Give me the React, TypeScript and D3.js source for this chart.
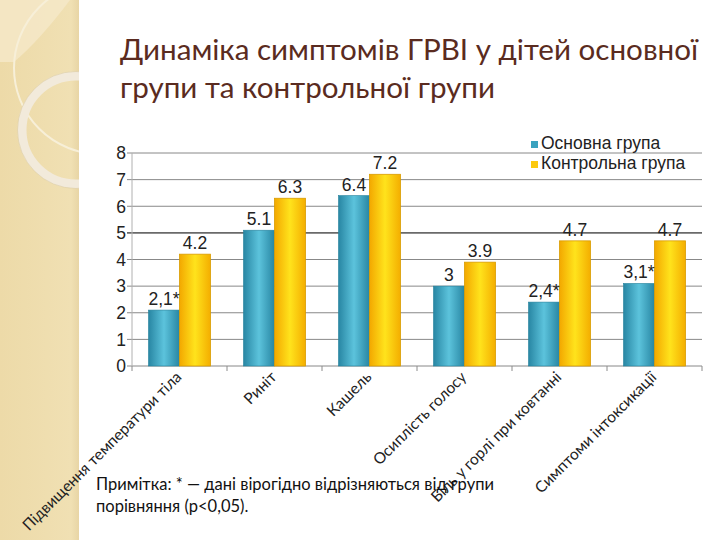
import React from "react";
import * as d3 from "d3";

const categories = [
  "Підвищення температури тіла",
  "Риніт",
  "Кашель",
  "Осиплість голосу",
  "Біль у горлі при ковтанні",
  "Симптоми інтоксикації",
];
const mainValues = [2.1, 5.1, 6.4, 3, 2.4, 3.1];
const controlValues = [4.2, 6.3, 7.2, 3.9, 4.7, 4.7];
const mainLabels = ["2,1*", "5.1", "6.4", "3", "2,4*", "3,1*"];
const controlLabels = ["4.2", "6.3", "7.2", "3.9", "4.7", "4.7"];
const seriesNames = ["Основна група", "Контрольна група"];
const yTicks = [0, 1, 2, 3, 4, 5, 6, 7, 8];
const titleLines = [
  "Динаміка симптомів ГРВІ у дітей основної",
  "групи та контрольної групи",
];
const noteLines = [
  "Примітка: * — дані вірогідно відрізняються від групи",
  "порівняння (p<0,05).",
];

const W = 720;
const H = 540;

export default function App() {
  const left = 132;
  const right = 702;
  const top = 153;
  const bottom = 366;
  const x = d3
    .scaleBand<string>()
    .domain(categories)
    .range([left, right])
    .paddingInner(0.347)
    .paddingOuter(0.1735);
  const sub = d3
    .scaleBand<string>()
    .domain(["main", "control"])
    .range([0, x.bandwidth()]);
  const y = d3.scaleLinear().domain([0, 8]).range([bottom, top]);
  const step = x.step();
  const arial = "'Liberation Sans', Arial, sans-serif";
  const humanist = "Lato, 'Open Sans', sans-serif";

  return (
    <svg
      width={W}
      height={H}
      viewBox={`0 0 ${W} ${H}`}
      style={{ position: "absolute", left: 0, top: 0, background: "#fff" }}
    >
      <defs>
        <linearGradient id="gBlue" x1="0" x2="1" y1="0" y2="0">
          <stop offset="0%" stopColor="#2886a3" />
          <stop offset="50%" stopColor="#5cc3dc" />
          <stop offset="100%" stopColor="#2886a3" />
        </linearGradient>
        <linearGradient id="gGold" x1="0" x2="1" y1="0" y2="0">
          <stop offset="0%" stopColor="#f3a800" />
          <stop offset="50%" stopColor="#ffe31c" />
          <stop offset="100%" stopColor="#f4ae00" />
        </linearGradient>
        <linearGradient id="gPanel" x1="0" x2="1" y1="0" y2="0">
          <stop offset="0%" stopColor="#eddaa8" />
          <stop offset="90%" stopColor="#f0e0b3" />
          <stop offset="100%" stopColor="#e8d5a5" />
        </linearGradient>
        <clipPath id="panelClip">
          <rect x={0} y={0} width={79} height={H} />
        </clipPath>
      </defs>

      {/* decorative left panel */}
      <rect x={0} y={0} width={79} height={H} fill="url(#gPanel)" />
      <g clipPath="url(#panelClip)">
        <path
          d="M0,0 L70,0 Q40,40 14,62 L0,62 Z"
          fill="#f5e9c9"
          opacity={0.8}
        />
        <circle cx={100} cy={68} r={86} fill="none" stroke="#f7efd8" strokeWidth={2} />
        <circle cx={76} cy={130} r={54} fill="none" stroke="#f2eadb" strokeWidth={9} />
        <circle cx={76} cy={130} r={58.5} fill="none" stroke="#d8c69a" strokeWidth={0.8} opacity={0.6} />
      </g>

      {/* title */}
      {titleLines.map((t, i) => (
        <text
          key={i}
          x={120}
          y={60 + i * 38}
          fontFamily={humanist}
          fontSize={29.6}
          fill="#5a2b20"
        >
          {t}
        </text>
      ))}

      {/* gridlines */}
      {yTicks.map((t) => (
        <g key={t}>
          <line
            x1={left - 5}
            x2={right}
            y1={y(t)}
            y2={y(t)}
            stroke={t === 5 ? "#6a6a6a" : "#888"}
            strokeWidth={t === 5 ? 1.8 : 1}
          />
          <text
            x={left - 6}
            y={y(t)}
            dy="0.36em"
            textAnchor="end"
            fontFamily={arial}
            fontSize={17.5}
            fill="#222"
          >
            {t}
          </text>
        </g>
      ))}
      <line x1={left} x2={left} y1={top} y2={bottom} stroke="#b0b0b0" />
      {categories.map((c, i) => (
        <line
          key={c}
          x1={left + i * step}
          x2={left + i * step}
          y1={bottom}
          y2={bottom + 5}
          stroke="#8c8c8c"
        />
      ))}
      <line x1={right} x2={right} y1={bottom} y2={bottom + 5} stroke="#8c8c8c" />

      {/* bars */}
      {categories.map((c, i) => {
        const x0 = x(c) as number;
        const bw = sub.bandwidth();
        const xm = x0 + (sub("main") as number);
        const xc = x0 + (sub("control") as number);
        return (
          <g key={c}>
            <rect
              x={xm}
              y={y(mainValues[i])}
              width={bw}
              height={bottom - y(mainValues[i])}
              fill="url(#gBlue)"
              stroke="#23819c"
              strokeWidth={0.6}
            />
            <rect
              x={xc}
              y={y(controlValues[i])}
              width={bw}
              height={bottom - y(controlValues[i])}
              fill="url(#gGold)"
              stroke="#d99c00"
              strokeWidth={0.8}
            />
            <text
              x={xm + bw / 2}
              y={y(mainValues[i]) - 5}
              textAnchor="middle"
              fontFamily={arial}
              fontSize={17.5}
              fill="#222"
            >
              {mainLabels[i]}
            </text>
            <text
              x={xc + bw / 2}
              y={y(controlValues[i]) - 5}
              textAnchor="middle"
              fontFamily={arial}
              fontSize={17.5}
              fill="#222"
            >
              {controlLabels[i]}
            </text>
          </g>
        );
      })}

      {/* x labels */}
      {categories.map((c) => {
        const cx = (x(c) as number) + x.bandwidth() / 2 + 3;
        const cy = bottom + 12;
        return (
          <text
            key={c}
            transform={`translate(${cx},${cy}) rotate(-45)`}
            textAnchor="end"
            fontFamily={humanist}
            fontSize={15.5}
            fill="#222"
          >
            {c}
          </text>
        );
      })}

      {/* legend */}
      {seriesNames.map((s, i) => (
        <g key={s} transform={`translate(531,${141 + i * 20})`}>
          <rect width={7} height={7} fill={i === 0 ? "#3aa2bf" : "#fcc90e"} />
          <text x={10} y={8} fontFamily={arial} fontSize={17.5} fill="#222">
            {s}
          </text>
        </g>
      ))}

      {/* note */}
      {noteLines.map((t, i) => (
        <text
          key={i}
          x={96}
          y={490 + i * 22}
          fontFamily={humanist}
          fontSize={16.5}
          fill="#111"
        >
          {t}
        </text>
      ))}
    </svg>
  );
}
